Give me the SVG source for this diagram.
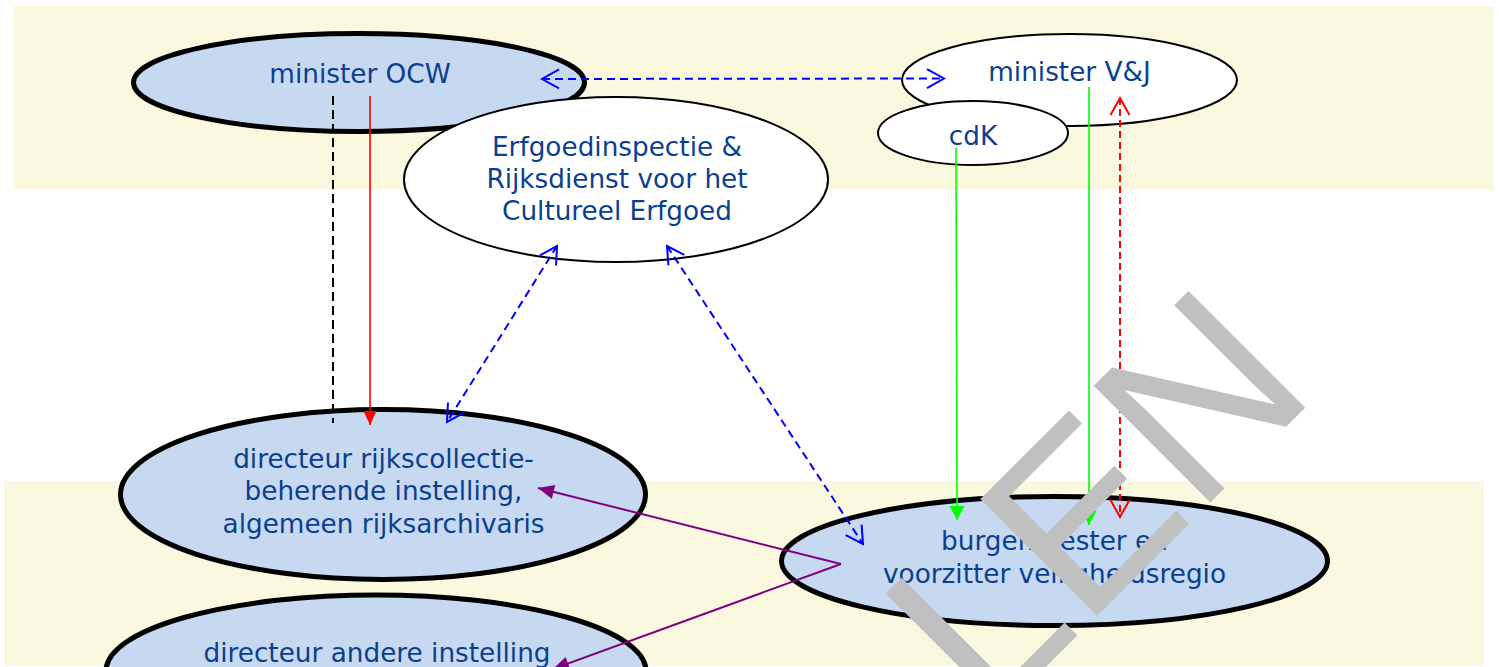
<svg xmlns="http://www.w3.org/2000/svg" width="1499" height="667" viewBox="0 0 1499 667">
<style>
.band{fill:#FAF8DE}
.main{fill:#C6D9F1;stroke:#000;stroke-width:5}
.sub{fill:#FFFFFF;stroke:#000;stroke-width:2}
.lbl{font-family:"DejaVu Sans",Verdana,sans-serif;font-size:26.3px;fill:#0A3F8F;text-anchor:middle}
.blue{fill:none;stroke:#0000FF;stroke-width:2;stroke-dasharray:8 5}
.blk{fill:none;stroke:#000;stroke-width:2;stroke-dasharray:9 5}
.red{fill:none;stroke:#FF0000;stroke-width:1.6}
.redd{fill:none;stroke:#FF0000;stroke-width:2;stroke-dasharray:7 4}
.grn{fill:none;stroke:#00FF00;stroke-width:1.6}
.pur{fill:none;stroke:#800080;stroke-width:2}
.wm{font-family:"Liberation Sans",Arial,sans-serif;font-size:240px;fill:#C0C0C0}
</style>
<defs>
<marker id="openBlue" markerUnits="userSpaceOnUse" viewBox="-20 -12 22 24" markerWidth="22" markerHeight="24" refX="0" refY="0" orient="auto-start-reverse">
<path d="M-17,-9.5 L0,0 L-17,9.5" fill="none" stroke="#0000FF" stroke-width="2"/>
</marker>
<marker id="openRed" markerUnits="userSpaceOnUse" viewBox="-20 -12 22 24" markerWidth="22" markerHeight="24" refX="0" refY="0" orient="auto-start-reverse">
<path d="M-17,-9.5 L0,0 L-17,9.5" fill="none" stroke="#FF0000" stroke-width="2"/>
</marker>
<marker id="fillRed" markerUnits="userSpaceOnUse" viewBox="-16 -8 17 16" markerWidth="17" markerHeight="16" refX="0" refY="0" orient="auto">
<path d="M-14,-6.5 L0,0 L-14,6.5 Z" fill="#FF0000"/>
</marker>
<marker id="fillGreen" markerUnits="userSpaceOnUse" viewBox="-16 -8 17 16" markerWidth="17" markerHeight="16" refX="0" refY="0" orient="auto">
<path d="M-14,-7.5 L0,0 L-14,7.5 Z" fill="#00FF00"/>
</marker>
<marker id="fillPurple" markerUnits="userSpaceOnUse" viewBox="-18 -8 19 16" markerWidth="19" markerHeight="16" refX="0" refY="0" orient="auto">
<path d="M-16,-7 L0,0 L-16,7 Z" fill="#800080"/>
</marker>
</defs>

<g id="bands">
<rect class="band" x="14" y="6" width="1480" height="184"/>
<rect class="band" x="4" y="481" width="1480" height="185"/>
</g>

<g id="minister-ocw">
<ellipse class="main" cx="359" cy="82.5" rx="225.5" ry="49"/>
<text class="lbl" x="360" y="83">minister OCW</text>
</g>

<g id="erfgoedinspectie">
<ellipse class="sub" cx="616" cy="179.5" rx="212" ry="82.5"/>
<text class="lbl" x="617" y="156">Erfgoedinspectie &amp;</text>
<text class="lbl" x="617" y="188">Rijksdienst voor het</text>
<text class="lbl" x="617" y="220">Cultureel Erfgoed</text>
</g>

<g id="minister-vj">
<ellipse class="sub" cx="1069.5" cy="80" rx="167.5" ry="46"/>
<text class="lbl" x="1069.5" y="81">minister V&amp;J</text>
</g>

<g id="cdk">
<ellipse class="sub" cx="973" cy="133" rx="95" ry="32"/>
<text class="lbl" x="973" y="145">cdK</text>
</g>

<g id="directeur-rijkscollectie">
<ellipse class="main" cx="383" cy="494.5" rx="262.5" ry="85"/>
<text class="lbl" x="383.5" y="468">directeur rijkscollectie-</text>
<text class="lbl" x="383.5" y="500">beherende instelling,</text>
<text class="lbl" x="383.5" y="533">algemeen rijksarchivaris</text>
</g>

<g id="burgemeester">
<ellipse class="main" cx="1054.5" cy="561" rx="273" ry="64.5"/>
<text class="lbl" x="1054.5" y="550">burgemeester en</text>
<text class="lbl" x="1054.5" y="583">voorzitter veiligheidsregio</text>
</g>

<g id="directeur-andere">
<ellipse class="main" cx="376" cy="671" rx="270" ry="76"/>
<text class="lbl" x="377" y="662">directeur andere instelling</text>
</g>

<g id="connectors">
<line class="blue" x1="542" y1="79" x2="944" y2="78.5" marker-start="url(#openBlue)" marker-end="url(#openBlue)"/>
<line class="blk" x1="333" y1="96" x2="333" y2="423"/>
<line class="red" x1="370" y1="96" x2="370" y2="425" marker-end="url(#fillRed)"/>
<line class="blue" x1="557" y1="246" x2="447" y2="422" marker-start="url(#openBlue)" marker-end="url(#openBlue)"/>
<line class="blue" x1="667" y1="246" x2="863" y2="544" marker-start="url(#openBlue)" marker-end="url(#openBlue)"/>
<line class="grn" x1="956" y1="148" x2="957" y2="520" marker-end="url(#fillGreen)"/>
<line class="grn" x1="1089" y1="87" x2="1089" y2="525" marker-end="url(#fillGreen)"/>
<line class="redd" x1="1120" y1="98" x2="1120" y2="517" marker-start="url(#openRed)" marker-end="url(#openRed)"/>
<line class="pur" x1="841" y1="564" x2="538" y2="488" marker-end="url(#fillPurple)"/>
<line class="pur" x1="841" y1="564" x2="553" y2="669" marker-end="url(#fillPurple)"/>
</g>

<g id="watermark">
<text class="wm" x="1319" y="394" text-anchor="end" transform="rotate(-45 1319 394)">LEN</text>
</g>
</svg>
